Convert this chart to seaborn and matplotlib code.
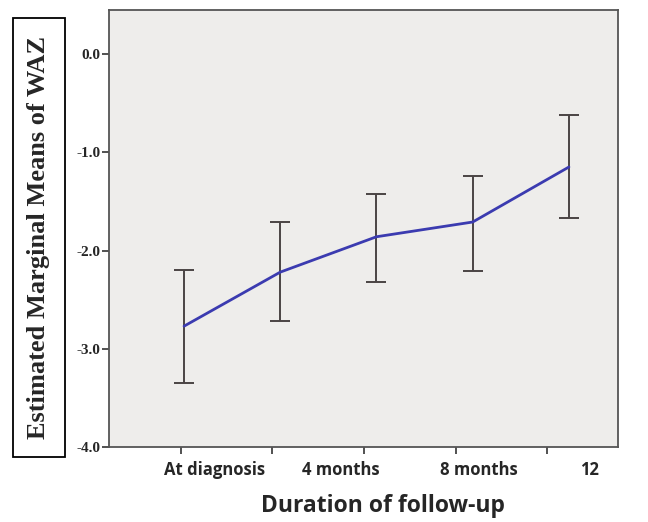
import matplotlib
matplotlib.use("Agg")
import matplotlib.pyplot as plt
from matplotlib.patches import Rectangle
import seaborn as sns
import pandas as pd
import numpy as np

# ---- data ----
timepoints = ["At diagnosis", "4 months", "8 months", "12 months", "End"]
means = [-2.77, -2.22, -1.86, -1.71, -1.15]
upper = [-2.20, -1.71, -1.42, -1.24, -0.62]
lower = [-3.35, -2.72, -2.32, -2.21, -1.67]
tick_labels = ["At diagnosis", "4 months", "8 months", "12"]
ytick_values = [0.0, -1.0, -2.0, -3.0, -4.0]

df = pd.DataFrame({"pos": np.arange(len(timepoints)), "mean": means,
                   "upper": upper, "lower": lower})

sns.set_theme(style="white")
fig = plt.figure(figsize=(6.48, 5.22), dpi=100)
ax = fig.add_axes([109/648, 1-447/522, (618-109)/648, (447-10)/522])
ax.set_facecolor("#EEEDEB")

err_lo = df["mean"] - df["lower"]
err_hi = df["upper"] - df["mean"]
ax.errorbar(df["pos"], df["mean"], yerr=[err_lo, err_hi], fmt="none",
            ecolor="#4a4444", elinewidth=1.4, capsize=7, capthick=1.4, zorder=2)
sns.lineplot(data=df, x="pos", y="mean", ax=ax, color="#3b3bb0", linewidth=2,
             zorder=3)

ax.set_xlim(-0.78, 4.51)
ax.set_ylim(-4.0, 0.448)

# y ticks
ax.set_yticks(ytick_values)
ax.set_yticklabels([f"{v:.1f}" for v in ytick_values],
                   fontdict={"family": "Liberation Serif", "weight": "bold", "size": 11})
ax.tick_params(axis="y", direction="out", length=5, width=1.2, color="#333333",
               pad=1, left=True)

# x ticks: marks at minor positions, labels at major positions
minor_pos = [-0.03, 0.914, 1.87, 2.83, 3.77]
label_pos = [0.32, 1.63, 3.06, 4.21]
ax.set_xticks(label_pos)
ax.set_xticklabels(tick_labels, fontdict={"family": "Open Sans", "weight": "bold", "size": 12})
ax.tick_params(axis="x", which="major", length=0, pad=10)
ax.set_xticks(minor_pos, minor=True)
ax.tick_params(axis="x", which="minor", direction="out", length=5, width=1.2,
               color="#333333", bottom=True)

for s in ax.spines.values():
    s.set_color("#555555")
    s.set_linewidth(1.3)

ax.set_xlabel("Duration of follow-up", fontfamily="Open Sans", fontweight="bold",
              fontsize=16.5)
ax.xaxis.set_label_coords((383-109)/(618-109), -(494-447)/(447-10))
ax.set_ylabel("")

# y label in a box
fig.patches.append(Rectangle((13/648, 1-457/522), 52/648, 439/522,
                             transform=fig.transFigure, fill=False,
                             edgecolor="black", linewidth=1.3))
fig.text(39/648, 1-237/522, "Estimated Marginal Means of WAZ", rotation=90,
         ha="center", va="center", fontfamily="Liberation Serif",
         fontweight="bold", fontsize=19)

fig.savefig("out.png", dpi=100)
